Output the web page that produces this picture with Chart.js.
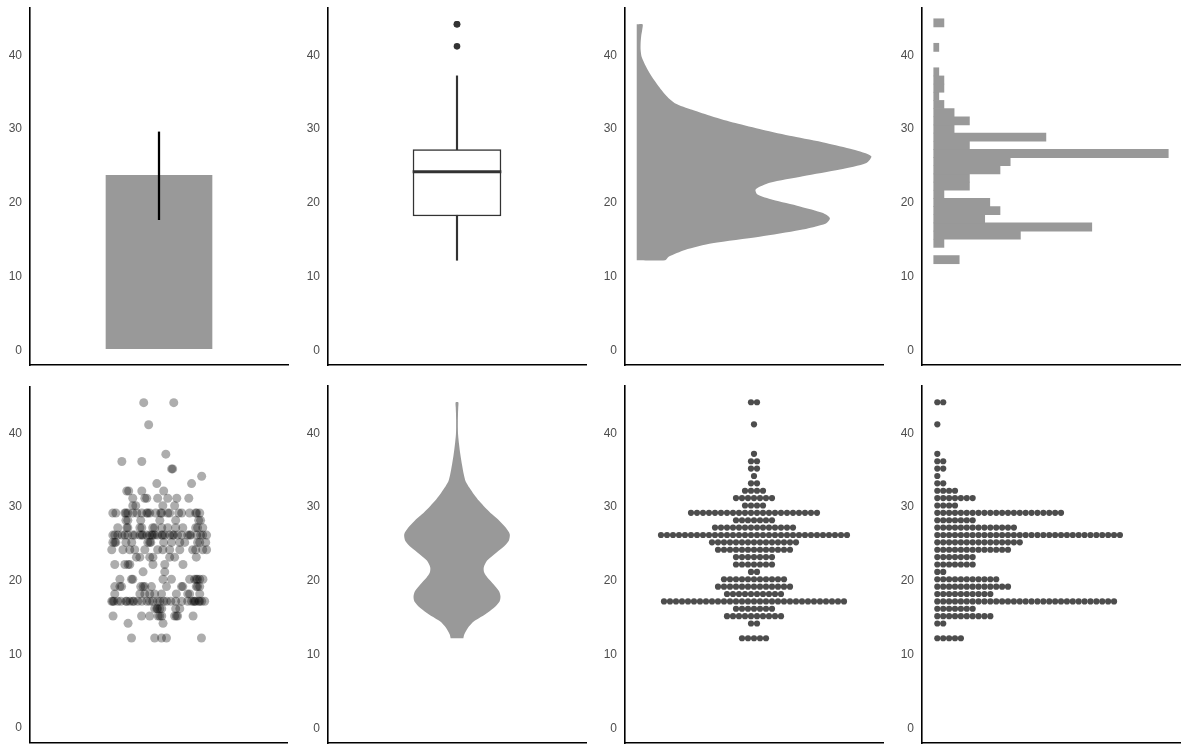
<!DOCTYPE html>
<html lang="en">
<head>
<meta charset="UTF-8">
<title>hwy distribution panels</title>
<script src="https://cdn.jsdelivr.net/npm/chart.js@4"></script>
<style>
  body { margin: 0; background: #fff; width: 1188px; height: 756px; overflow: hidden; position: relative; }
  .panel { position: absolute; width: 292px; height: 365px; }
</style>
</head>
<body>
<script>
// values
const yTicks = [0, 10, 20, 30, 40];
const hwyValues = [12, 14, 15, 16, 17, 18, 19, 20, 21, 22, 23, 24, 25, 26, 27, 28, 29, 30, 31, 32, 33, 34, 35, 36, 37, 41, 44];
const hwyCounts = [5, 2, 10, 7, 31, 10, 13, 11, 2, 7, 7, 13, 15, 32, 14, 7, 22, 4, 7, 4, 2, 1, 2, 2, 1, 1, 2];

const barMean = [23.5];
const errRange = [17.5, 29.4];

const boxQuartiles = [18, 24, 27];
const boxWhiskers = [12, 37];
const boxOutliers = [41, 44, 44];

const histBinStart = 11.53;
const histBinWidth = 1.107;
const histCounts = [5, 0, 2, 17, 31, 10, 13, 11, 2, 7, 7, 13, 15, 46, 7, 22, 4, 7, 4, 2, 1, 2, 2, 1, 0, 0, 1, 0, 0, 2];

const densityY = [12.0, 12.5, 13.4, 14.3, 15.2, 16.1, 17.0, 17.7, 18.4, 19.3, 20.2, 20.9, 21.6, 22.5, 23.4, 24.3,
                  25.2, 26.1, 27.0, 27.9, 28.8, 29.7, 30.6, 31.5, 32.4, 33.3, 34.2, 35.6, 36.9, 38.3, 39.6, 40.5,
                  41.5, 42.5, 43.3, 44.0];
const densityX = [0.0087, 0.0099, 0.0148, 0.0232, 0.0377, 0.0501, 0.0581, 0.0593, 0.0572, 0.0501, 0.0417, 0.0371,
                  0.0365, 0.0408, 0.0510, 0.0624, 0.0705, 0.0720, 0.0664, 0.0581, 0.0479, 0.0386, 0.0303, 0.0232,
                  0.0170, 0.0117, 0.0093, 0.0067, 0.0046, 0.0028, 0.0015, 0.0012, 0.0012, 0.0014, 0.0017, 0.0018];

// horizontal jitter of each point, one list per value in hwyValues
const jitterX = [
  [-0.127, -0.019, 0.013, 0.036, 0.199],
  [-0.143, 0.02],
  [-0.213, -0.08, -0.042, -0.003, 0.005, 0.014, 0.074, 0.082, 0.088, 0.16],
  [-0.019, -0.009, -0.005, 0.005, 0.014, 0.079, 0.098],
  [-0.219, -0.214, -0.209, -0.191, -0.177, -0.153, -0.149, -0.135, -0.121, -0.116, -0.098, -0.079, -0.056, -0.042,
   -0.028, -0.005, 0.005, 0.023, 0.037, 0.056, 0.079, 0.107, 0.135, 0.153, 0.163, 0.167, 0.172, 0.186, 0.191, 0.2, 0.214],
  [-0.205, -0.088, -0.065, -0.042, -0.019, 0.013, 0.082, 0.135, 0.144, 0.191],
  [-0.205, -0.181, -0.173, -0.084, -0.073, -0.065, -0.034, 0.036, 0.106, 0.112, 0.175, 0.181, 0.191],
  [-0.181, -0.127, -0.121, 0.02, 0.059, 0.144, 0.167, 0.175, 0.181, 0.191, 0.206],
  [-0.073, 0.028],
  [-0.205, -0.158, -0.143, -0.135, -0.027, 0.028, 0.113],
  [-0.104, -0.088, -0.042, -0.027, 0.051, 0.074, 0.175],
  [-0.219, -0.167, -0.135, -0.112, -0.065, -0.005, 0.019, 0.051, 0.098, 0.158, 0.172, 0.205, 0.223],
  [-0.214, -0.205, -0.2, -0.153, -0.126, -0.051, -0.042, -0.037, 0.023, 0.06, 0.098, 0.121, 0.181, 0.191, 0.219],
  [-0.214, -0.205, -0.191, -0.172, -0.158, -0.144, -0.121, -0.112, -0.088, -0.079, -0.074, -0.056, -0.042, -0.033,
   -0.028, -0.019, -0.005, 0.014, 0.019, 0.028, 0.051, 0.065, 0.07, 0.088, 0.107, 0.135, 0.144, 0.149, 0.177, 0.195,
   0.205, 0.223],
  [-0.191, -0.149, -0.144, -0.088, -0.079, -0.028, -0.019, 0.014, 0.042, 0.079, 0.112, 0.172, 0.181, 0.205],
  [-0.153, -0.144, -0.084, 0.005, 0.079, 0.186, 0.195],
  [-0.214, -0.2, -0.158, -0.153, -0.144, -0.121, -0.102, -0.079, -0.056, -0.051, -0.042, -0.014, 0.009, 0.014, 0.042,
   0.051, 0.093, 0.107, 0.144, 0.172, 0.177, 0.191],
  [-0.121, -0.107, 0.019, 0.074],
  [-0.121, -0.065, -0.056, -0.005, 0.042, 0.084, 0.14],
  [-0.149, -0.14, -0.079, 0.023],
  [-0.009, 0.153],
  [0.2],
  [0.06, 0.065],
  [-0.172, -0.079],
  [0.033],
  [-0.047],
  [-0.07, 0.07]
];

// layout of the 2x4 grid (left edge of each y axis, top of each row)
const panelLeft = [30, 328, 625, 922];
const panelTop = [8, 386];

Chart.defaults.animation = false;
Chart.defaults.plugins.legend.display = false;
Chart.defaults.plugins.tooltip.enabled = false;
Chart.defaults.font.family = "'Liberation Sans', Arial, sans-serif";

function valueAxis() {
  return {
    type: 'linear', min: -2.2, max: 46.2, offset: false,
    afterBuildTicks: s => { s.ticks = yTicks.map(v => ({ value: v })); },
    afterFit: s => { s.width = 30; s.paddingTop = 0; s.paddingBottom = 0; },
    grid: { display: false, drawTicks: false },
    border: { display: true, color: '#000', width: 1.6 },
    ticks: { padding: 8, labelOffset: 1.5, color: '#4d4d4d', font: { size: 12 } }
  };
}

function bottomAxis(type, min, max) {
  const ax = {
    type,
    afterFit: s => { s.height = 4; s.paddingLeft = 0; s.paddingRight = 0; },
    ticks: { display: false },
    grid: { display: false, drawTicks: false },
    border: { display: true, color: '#000', width: 1.6 }
  };
  if (min !== undefined) { ax.min = min; ax.max = max; }
  return ax;
}

function makePanel(i, config) {
  const div = document.createElement('div');
  div.className = 'panel';
  div.style.left = (panelLeft[i % 4] - 30) + 'px';
  div.style.top = (panelTop[Math.floor(i / 4)] - 4) + 'px';
  const canvas = document.createElement('canvas');
  div.appendChild(canvas);
  document.body.appendChild(div);
  config.options = Object.assign({
    responsive: true,
    maintainAspectRatio: false,
    layout: { padding: { top: 4, right: 4, left: 0, bottom: 0 } }
  }, config.options);
  return new Chart(canvas, config);
}

// 1. mean bar with error line
makePanel(0, {
  type: 'bar',
  data: {
    labels: ['hwy'],
    datasets: [
      { data: [errRange], backgroundColor: '#000', barThickness: 1.6, grouped: false },
      { data: barMean, backgroundColor: '#999999', barThickness: 106, grouped: false }
    ]
  },
  options: { scales: { x: bottomAxis('category'), y: valueAxis() } }
});

// 2. boxplot
makePanel(1, {
  type: 'bar',
  data: {
    labels: ['hwy'],
    datasets: [
      { type: 'scatter', data: boxOutliers.map(v => ({ x: 'hwy', y: v })), pointRadius: 3.3,
        backgroundColor: '#333', borderWidth: 0 },
      { data: [[boxQuartiles[1] - 0.17, boxQuartiles[1] + 0.17]], backgroundColor: '#333', barThickness: 88, grouped: false },
      { data: [[boxQuartiles[0], boxQuartiles[2]]], backgroundColor: '#fff', borderColor: '#333', borderWidth: 1.5,
        borderSkipped: false, barThickness: 88, grouped: false },
      { data: [boxWhiskers], backgroundColor: '#333', barThickness: 1.5, grouped: false }
    ]
  },
  options: { scales: { x: bottomAxis('category'), y: valueAxis() } }
});

// 3. density
const densityShape = [{ x: 0, y: densityY[0] }]
  .concat(densityY.map((y, i) => ({ x: densityX[i], y })))
  .concat([{ x: 0, y: densityY[densityY.length - 1] }]);
makePanel(2, {
  type: 'line',
  data: {
    datasets: [{ data: densityShape, fill: 'shape', backgroundColor: '#999999', borderColor: 'rgba(0,0,0,0)',
      borderWidth: 1, pointRadius: 0, tension: 0.25 }]
  },
  options: { scales: { x: bottomAxis('linear', -0.0036, 0.0756), y: valueAxis() } }
});

// 4. histogram (empty bins left out so nothing is drawn there)
const histBars = histCounts
  .map((c, i) => ({ x: c, y: histBinStart + (i + 0.5) * histBinWidth }))
  .filter(b => b.x > 0);
makePanel(3, {
  type: 'bar',
  data: {
    datasets: [{ data: histBars, backgroundColor: '#999999', barPercentage: 1, categoryPercentage: 1 }]
  },
  options: { indexAxis: 'y', scales: { x: bottomAxis('linear', -2.3, 48.3), y: valueAxis() } }
});

// 5. jittered points
const jitterPoints = [];
hwyValues.forEach((v, i) => jitterX[i].forEach(x => jitterPoints.push({ x, y: v })));
makePanel(4, {
  type: 'scatter',
  data: {
    datasets: [{ data: jitterPoints, pointRadius: 4.5, backgroundColor: 'rgba(0,0,0,0.32)', borderWidth: 0 }]
  },
  options: { scales: { x: bottomAxis('linear', -0.6, 0.6), y: valueAxis() } }
});

// 6. violin
const violinShape = densityY.map((y, i) => ({ x: densityX[i], y }))
  .concat(densityY.map((y, i) => ({ x: -densityX[i], y })).reverse());
makePanel(5, {
  type: 'line',
  data: {
    datasets: [{ data: violinShape, fill: 'shape', backgroundColor: '#999999', borderColor: 'rgba(0,0,0,0)',
      borderWidth: 1, pointRadius: 0, tension: 0.25 }]
  },
  options: { scales: { x: bottomAxis('linear', -0.176, 0.176), y: valueAxis() } }
});

// 7. centred dot plot, 8. dot plot stacked from the axis
const centredDots = [];
const stackedDots = [];
hwyValues.forEach((v, i) => {
  for (let k = 0; k < hwyCounts[i]; k++) {
    centredDots.push({ x: k - (hwyCounts[i] - 1) / 2, y: v });
    stackedDots.push({ x: k, y: v });
  }
});
makePanel(6, {
  type: 'scatter',
  data: { datasets: [{ data: centredDots, pointRadius: 3.1, backgroundColor: '#4d4d4d', borderWidth: 0 }] },
  options: { scales: { x: bottomAxis('linear', -21.5, 21.5), y: valueAxis() } }
});
makePanel(7, {
  type: 'scatter',
  data: { datasets: [{ data: stackedDots, pointRadius: 3.1, backgroundColor: '#4d4d4d', borderWidth: 0 }] },
  options: { scales: { x: bottomAxis('linear', -2.6, 41.2), y: valueAxis() } }
});
</script>
</body>
</html>
